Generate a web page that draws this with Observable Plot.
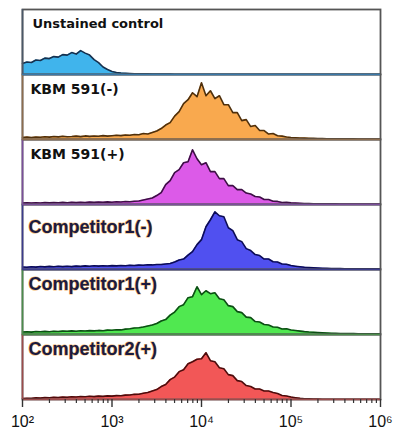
<!DOCTYPE html>
<html>
<head>
<meta charset="utf-8">
<script src="https://cdn.jsdelivr.net/npm/d3@7"></script>
<script src="https://cdn.jsdelivr.net/npm/@observablehq/plot@0.6"></script>
<style>
  html, body { margin: 0; padding: 0; background: #fff; }
  #chart { width: 403px; height: 434px; }
</style>
</head>
<body>
<div id="chart"></div>
<script>
// Panel names (top to bottom)
const samples = ["Unstained control", "KBM 591(-)", "KBM 591(+)", "Competitor1(-)", "Competitor1(+)", "Competitor2(+)"];

// Histogram bins: log10(fluorescence) from 2.0 to 6.0 in steps of 0.05
const binLogStart = 2, binLogStep = 0.05;

// Event counts per bin
const unstained = [11,12.5,12,14.5,14,16.5,16,18,17.5,20,
  19.5,22,20.5,24,21.5,19.5,15,12,7.5,5,
  3,2,1.5,1.2,1,0.8,0.7,0.6,0.6,0.5,
  0.5,0.4,0.4,0.4,0.3,0.3,0.3,0.3,0.3,0.3,
  0.3,0.3,0.2,0.2,0.2,0.2,0.2,0.2,0.2,0.2,
  0.2,0.2,0.2,0.2,0.2,0.2,0.2,0.2,0.2,0.2,
  0.2,0.2,0.2,0.2,0.2,0.2,0.2,0.2,0.2,0.2,
  0.2,0.2,0.2,0.2,0.2,0.2,0.2,0.2,0.2,0.2,0.2];
const kbmNeg = [2,2.5,2,2.5,2.2,2.8,2.4,3,2.6,3.2,
  2.8,3,3.4,2.9,3.6,3.1,3.5,3.3,3.9,3.4,
  3.8,4.3,3.9,4.6,4.2,5,4.8,6,5.5,7,
  8.5,11,14.5,17,23.5,28,36,40,47,43,
  57,44,49,41,44,35,35,27,27,19,
  20,13,14,9,9,5.5,6,3.8,3.4,2.5,
  2,1.8,1.5,1.4,1.2,1.1,1,0.9,0.8,0.8,
  0.7,0.7,0.6,0.6,0.6,0.5,0.5,0.5,0.5,0.5,0.5];
const kbmPos = [1.5,1.8,1.4,1.7,1.5,2,1.6,1.9,1.7,2.1,
  1.8,2.2,1.9,2.3,2,2.4,2.1,2.5,2.2,2.6,
  2.3,2.8,2.5,3,2.7,3.3,3.5,4.5,5.5,6.5,
  9,12,20,24,32,35,42,43,55,46,
  40,42,33,33,26,26,19,19,15,15,
  11.5,10.5,8,7.5,5,5,3.2,3.1,2,2.1,
  1.6,1.4,1.2,1,0.9,0.8,0.7,0.7,0.6,0.6,
  0.6,0.5,0.5,0.5,0.5,0.5,0.4,0.4,0.4,0.4,0.4];
const comp1Neg = [2.5,2.2,2.8,2.4,3,2.6,3.1,2.7,3.2,2.9,
  3.3,2.9,3.4,3.1,3.6,3.2,3.7,3.4,3.8,3.5,
  3.9,3.6,4,3.8,4.2,4,4.4,4.3,4.7,4.6,
  5,5,5.5,6,7.5,9.5,10.5,14.5,18,25,
  30,43,50,58,54,53,42,39,30,28,
  21,19,15,14,10.5,10.5,7.8,7.5,5.5,5.3,
  4,3.3,2.7,2.2,1.9,1.6,1.4,1.2,1.1,1,
  0.9,0.9,0.8,0.8,0.8,0.7,0.7,0.7,0.6,0.6,0.6];
const comp1Pos = [2.5,2.8,2.4,3,2.7,3.1,2.8,3.3,3,3.4,
  3.2,3.6,3.3,3.7,3.5,3.9,3.6,4.1,3.8,4.4,
  4.2,4.8,4.6,5.4,5.8,6.5,6.8,7.5,8.5,9.5,
  11,13.5,15,19.5,22.5,28,30,37,38,48,
  40,44,41,42,36,35,29,28,23,22,
  17.5,17,13,12.5,10,9.5,7.5,7.3,5.6,5.8,
  4.5,4,3.4,2.9,2.5,2.2,1.9,1.6,1.4,1.2,
  1.1,1,1,0.9,0.9,0.8,0.8,0.8,0.7,0.7,0.7];
const comp2Pos = [1,1.3,1.1,1.6,1.4,1.9,1.7,2.2,2,2.5,
  2.3,2.8,2.5,3,2.7,3.2,2.9,3.4,3.1,3.6,
  3.4,3.9,3.7,4.4,4.5,5.2,5.3,6.2,7,8.5,
  10,13,15,20,22.5,28,30,36,38,40.5,
  41,47,39,38,32,31,25,24,19,18,
  14,13,10.5,10.5,8.5,8.5,7,6,4,3.5,
  2.5,1.8,1.2,0.8,0.6,0.4,0.4,0.3,0.3,0.3,
  0.3,0.3,0.3,0.3,0.3,0.3,0.3,0.3,0.3,0.3,0.3];

// Colours per panel
const fills    = ["#40b4ec", "#f9a94e", "#dc5ae8", "#5050f0", "#50e850", "#f25757"];
const strokes  = ["#16304e", "#4f300c", "#3d0f45", "#0c0c55", "#0c4d14", "#4d0c0c"];
const borders  = ["#4b5868", "#8c6d4f", "#7a4f9a", "#3c3c8c", "#4c8c4c", "#9c4c4c"];
const baselines= ["#3a78a8", "#8c6d4f", "#7a4f9a", "#3c3c8c", "#4c8c4c", "#9c4c4c"];

// Axis
const xDomain = [1e2, 1e6];
const majorTicks = [1e2, 1e3, 1e4, 1e5, 1e6];
const tickLabels = ["10²", "10³", "10⁴", "10⁵", "10⁶"];
const minorTicks = [1e2, 1e3, 1e4, 1e5].flatMap(p => [2,3,4,5,6,7,8,9].map(m => m * p));

const series = [unstained, kbmNeg, kbmPos, comp1Neg, comp1Pos, comp2Pos];
const rows = [];
series.forEach((vals, s) => {
  vals.forEach((c, i) => {
    rows.push({sample: samples[s], x: Math.pow(10, binLogStart + i * binLogStep), count: c, fill: fills[s], stroke: strokes[s]});
  });
});
const panels = samples.map((s, i) => ({sample: s, border: borders[i], baseline: baselines[i]}));

const H = 434, mTop = 8, mBottom = 34;
const panelH = (H - mTop - mBottom) / samples.length;

const plot = Plot.plot({
  width: 403,
  height: H,
  marginTop: mTop,
  marginBottom: mBottom,
  marginLeft: 22,
  marginRight: 23,
  style: {background: "#fff"},
  x: {type: "log", domain: xDomain, label: null},
  y: {domain: [0, panelH], axis: null},
  fy: {domain: samples, padding: 0, axis: null, label: null},
  color: {type: "identity"},
  marks: [
    Plot.areaY(rows, {x: "x", y: "count", fy: "sample", fill: "fill", z: "sample"}),
    Plot.lineY(rows, {x: "x", y: "count", fy: "sample", stroke: "stroke", z: "sample", strokeWidth: 1.6}),
    Plot.frame({stroke: "#555", strokeWidth: 1.8}),
    Plot.ruleX(panels, {x: () => xDomain[0], fy: "sample", stroke: "border", strokeWidth: 1.6}),
    Plot.ruleY(panels, {y: () => 0, fy: "sample", stroke: "baseline", strokeWidth: 1.6}),
    Plot.text(panels.slice(0, 1), {text: "sample", fy: "sample", frameAnchor: "top-left", lineAnchor: "top", dx: 10, dy: 9, fontSize: 13, fontWeight: "bold", fontFamily: "DejaVu Sans", fill: "#111"}),
    Plot.text(panels.slice(1, 3), {text: "sample", fy: "sample", frameAnchor: "top-left", lineAnchor: "top", dx: 8, dy: 10, fontSize: 14, fontWeight: "bold", fontFamily: "DejaVu Sans", fill: "#111"}),
    Plot.text(panels.slice(3, 4), {text: "sample", fy: "sample", frameAnchor: "top-left", lineAnchor: "top", dx: 6, dy: 16, fontSize: 18, fontWeight: "bold", fontFamily: "Liberation Sans", fill: "#1a1a40", stroke: "#f0b060", strokeWidth: 1, paintOrder: "stroke"}),
    Plot.text(panels.slice(4, 6), {text: "sample", fy: "sample", frameAnchor: "top-left", lineAnchor: "top", dx: 6, dy: 8, fontSize: 18, fontWeight: "bold", fontFamily: "Liberation Sans", fill: "#1a1a40", stroke: "#f0b060", strokeWidth: 1, paintOrder: "stroke"}),
    Plot.axisX(minorTicks, {tickSize: 4, tickFormat: () => "", stroke: "#333", strokeWidth: 1.2}),
    Plot.axisX(majorTicks, {tickSize: 8, tickPadding: 8, tickFormat: d => tickLabels[majorTicks.indexOf(d)], fontSize: 16, fontFamily: "Liberation Sans", stroke: "#333", strokeWidth: 1.4, fill: "#111"})
  ]
});
document.getElementById("chart").appendChild(plot);
</script>
</body>
</html>
